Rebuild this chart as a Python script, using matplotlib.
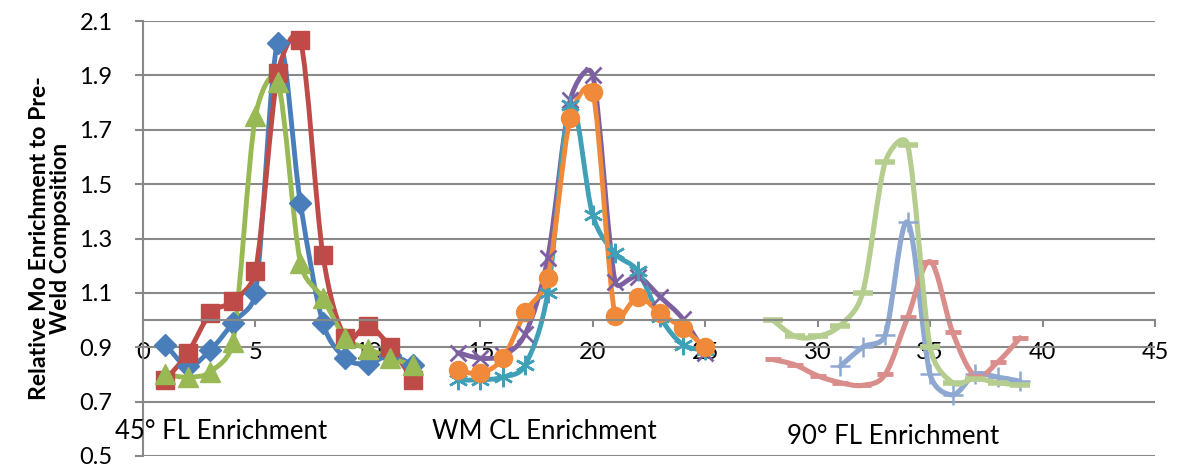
import matplotlib
matplotlib.use("Agg")
import matplotlib.pyplot as plt
import numpy as np
from matplotlib.path import Path
from matplotlib.patches import PathPatch

plt.rcParams['font.family'] = ['Lato', 'DejaVu Sans']

# 45 deg fusion line
x_fl45 = [1, 2, 3, 4, 5, 6, 7, 8, 9, 10, 11, 12]
fl45_a = [0.91, 0.83, 0.89, 0.99, 1.10, 2.02, 1.43, 0.99, 0.86, 0.84, 0.87, 0.835]
fl45_b = [0.78, 0.88, 1.025, 1.07, 1.18, 1.91, 2.03, 1.24, 0.935, 0.98, 0.90, 0.78]
fl45_c = [0.80, 0.79, 0.81, 0.92, 1.75, 1.875, 1.21, 1.08, 0.935, 0.895, 0.86, 0.835]

# weld metal centreline
x_wm = [14, 15, 16, 17, 18, 19, 20, 21, 22, 23, 24, 25]
wm_a = [0.88, 0.86, 0.87, 0.95, 1.23, 1.81, 1.90, 1.14, 1.16, 1.085, 1.005, 0.88]
wm_b = [0.78, 0.78, 0.79, 0.835, 1.10, 1.79, 1.385, 1.245, 1.18, 1.01, 0.91, 0.89]
wm_c = [0.815, 0.805, 0.86, 1.03, 1.155, 1.745, 1.84, 1.015, 1.085, 1.025, 0.97, 0.90]

# 90 deg fusion line
x_fl90_a = [31, 32, 33, 34, 35, 36, 37, 38, 39]
fl90_a = [0.83, 0.90, 0.945, 1.36, 0.80, 0.725, 0.80, 0.79, 0.775]
x_fl90 = [28, 29, 30, 31, 32, 33, 34, 35, 36, 37, 38, 39]
fl90_b = [0.855, 0.835, 0.795, 0.77, 0.76, 0.80, 1.01, 1.215, 0.955, 0.795, 0.845, 0.935]
fl90_c = [1.0, 0.94, 0.94, 0.98, 1.10, 1.58, 1.645, 0.90, 0.77, 0.785, 0.77, 0.76]

group_labels = ["45° FL Enrichment", "WM CL Enrichment", "90° FL Enrichment"]
ylabel = "Relative Mo Enrichment to Pre-\nWeld Composition"


def smooth_path(ax, xs, ys):
    # spreadsheet-like smoothed line: bezier with 1/6 handles,
    # shortened to half the segment where points are close (done in pixels)
    tr = ax.transData
    p = tr.transform(np.column_stack([xs, ys]).astype(float))
    n = len(p)
    verts = [p[0]]
    codes = [Path.MOVETO]
    for i in range(n - 1):
        p0 = p[i - 1] if i > 0 else p[i]
        p1 = p[i]
        p2 = p[i + 1]
        p3 = p[i + 2] if i + 2 < n else p[i + 1]
        d02 = np.hypot(*(p2 - p0))
        d12 = np.hypot(*(p2 - p1))
        d13 = np.hypot(*(p3 - p1))
        f1 = 1 / 6.0
        f2 = 1 / 6.0
        if d02 / 6.0 > d12 / 2.0:
            f1 = d12 / (2.0 * d02)
        if d13 / 6.0 > d12 / 2.0:
            f2 = d12 / (2.0 * d13)
        c1 = p1 + (p2 - p0) * f1
        c2 = p2 - (p3 - p1) * f2
        verts += [c1, c2, p2]
        codes += [Path.CURVE4] * 3
    verts = tr.inverted().transform(np.array(verts))
    return Path(verts, codes)


def series(ax, xs, ys, color, marker, ms, lw=3.5, mew=1.0):
    ax.add_patch(PathPatch(smooth_path(ax, xs, ys), fill=False, edgecolor=color,
                           lw=lw, capstyle='round', joinstyle='round'))
    ax.plot(xs, ys, ls='none', marker=marker, ms=ms, color=color,
            mfc=color, mec=color, mew=mew)


fig = plt.figure(figsize=(11.78, 4.68), dpi=100)
ax = fig.add_axes([143 / 1178, 1 - 456 / 468, (1155 - 143) / 1178, (456 - 21) / 468])

grid_c = '#898989'
ax.set_xlim(0, 45)
ax.set_ylim(0.5, 2.1)
ax.set_yticks(np.arange(0.5, 2.11, 0.2))
ax.set_yticklabels(["%.1f" % v for v in np.arange(0.5, 2.11, 0.2)])
ax.set_xticks(np.arange(0, 46, 5))
ax.yaxis.grid(True, color=grid_c, lw=1.5)
ax.set_axisbelow(True)

for s in ['top', 'right']:
    ax.spines[s].set_visible(False)
ax.spines['bottom'].set_position(('data', 1.0))
ax.spines['bottom'].set_color(grid_c)
ax.spines['bottom'].set_linewidth(1.5)
ax.spines['left'].set_color(grid_c)
ax.spines['left'].set_linewidth(1.5)
ax.tick_params(axis='x', direction='out', length=5, width=1.5, color=grid_c,
               pad=11, labelsize=17)
ax.tick_params(axis='y', direction='out', length=6, width=1.5, color=grid_c,
               pad=16, labelsize=17)

series(ax, x_fl45, fl45_a, '#4A7EBB', 'D', 11)
series(ax, x_fl45, fl45_b, '#BE4B48', 's', 13)
series(ax, x_fl45, fl45_c, '#98B954', '^', 14)

series(ax, x_wm, wm_a, '#7D60A0', 'x', 12, mew=2.0)
series(ax, x_wm, wm_b, '#3FA0B8', (6, 2, 0), 14, mew=1.8)
series(ax, x_wm, wm_c, '#F08A3A', 'o', 13)

series(ax, x_fl90_a, fl90_a, '#8EA8D2', '+', 14, lw=3.7, mew=1.8)
series(ax, x_fl90, fl90_b, '#D98E8C', '_', 11, lw=3.7, mew=3.5)
series(ax, x_fl90, fl90_c, '#B5CD8E', '_', 15, lw=3.7, mew=4.0)

ax.text(-1.25, 0.59, group_labels[0], fontsize=18.5, va='center', ha='left', clip_on=False)
ax.text(12.85, 0.59, group_labels[1], fontsize=18.5, va='center', ha='left')
ax.text(28.65, 0.57, group_labels[2], fontsize=18.5, va='center', ha='left')

fig.text(50 / 1178, 1 - 238 / 468, ylabel, rotation=90, ha='center', va='center',
         fontsize=16.6, fontweight='bold', multialignment='center', linespacing=1.05)

fig.savefig('out.png', dpi=100)
